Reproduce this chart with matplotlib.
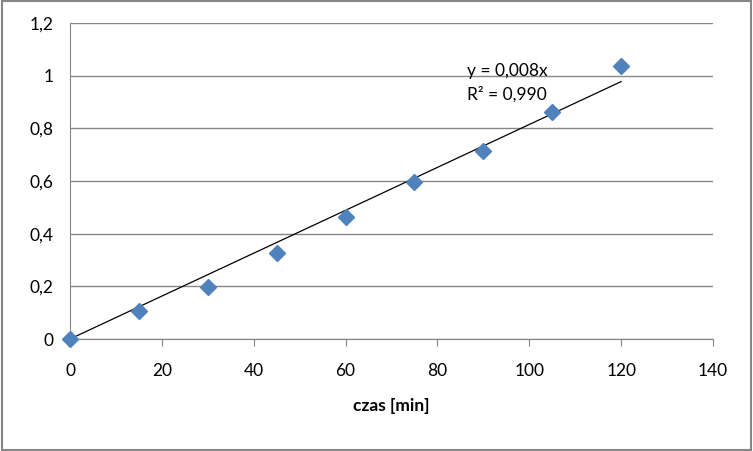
import numpy as np
import matplotlib.pyplot as plt
from matplotlib.patches import Rectangle

plt.rcParams['font.family'] = ['Lato', 'DejaVu Sans']

czas = np.array([0, 15, 30, 45, 60, 75, 90, 105, 120])
wartosc = np.array([0, 0.106, 0.197, 0.327, 0.463, 0.596, 0.714, 0.862, 1.037])
x_ticks = [0, 20, 40, 60, 80, 100, 120, 140]
y_ticks = [0, 0.2, 0.4, 0.6, 0.8, 1.0, 1.2]
y_labels = ['0', '0,2', '0,4', '0,6', '0,8', '1', '1,2']
rownanie = 'y = 0,008x'
r_kwadrat = 'R² = 0,990'

# linear trend through origin
slope = np.sum(czas * wartosc) / np.sum(czas ** 2)

fig = plt.figure(figsize=(7.53, 4.51), dpi=100)
ax = fig.add_axes([70 / 753, 112 / 451, 643 / 753, 316 / 451])

ax.plot([0, 120], [0, slope * 120], color='black', lw=0.9, zorder=2)
ax.plot(czas, wartosc, 'D', color='#4F81BD', markersize=8.5, zorder=3, clip_on=False)

ax.set_xlim(0, 140)
ax.set_ylim(0, 1.2)
ax.set_xticks(x_ticks)
ax.set_yticks(y_ticks)
ax.set_yticklabels(y_labels)
ax.tick_params(axis='x', direction='out', length=5, color='#868686', labelsize=12.5, pad=12)
ax.tick_params(axis='y', length=0, labelsize=12.5, pad=12)
ax.yaxis.grid(True, color='#868686', lw=1)
ax.set_axisbelow(True)
for s in ['top', 'right']:
    ax.spines[s].set_visible(False)
for s in ['left', 'bottom']:
    ax.spines[s].set_color('#868686')

ax.set_xlabel('czas [min]', fontsize=12.5, fontweight='bold', labelpad=14)

ax.text(86.4, 1.017, rownanie, fontsize=12.5, va='center')
ax.text(86.4, 0.928, r_kwadrat, fontsize=12.5, va='center')

fig.patches.append(Rectangle((0.002, 0.002), 0.996, 0.996, transform=fig.transFigure,
                             fill=False, edgecolor='#868686', lw=1.5))

fig.savefig('out.png', dpi=100)
